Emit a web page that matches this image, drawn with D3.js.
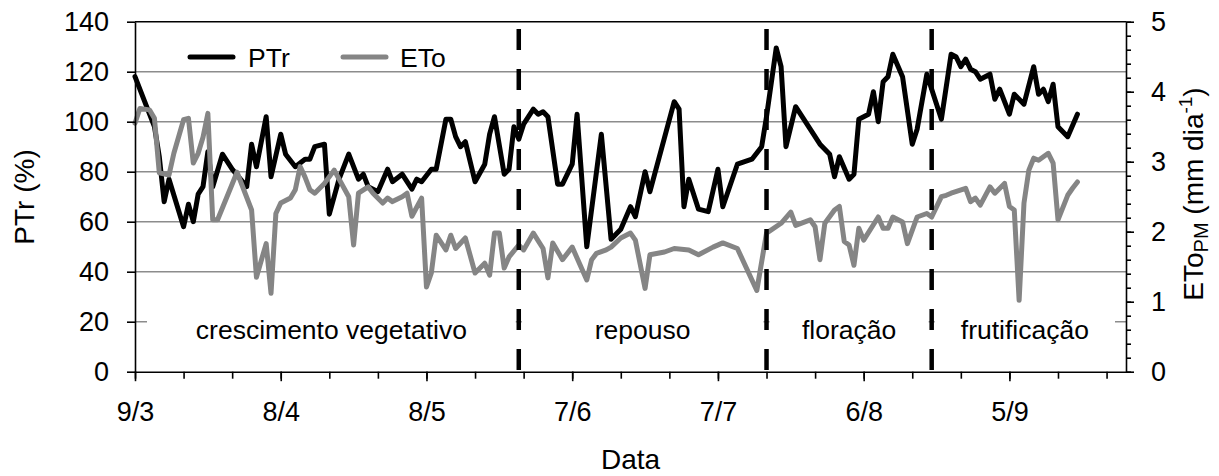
<!DOCTYPE html>
<html>
<head>
<meta charset="utf-8">
<script src="https://cdn.jsdelivr.net/npm/d3@7"></script>
<style>
  body { margin: 0; background: #fff; }
  text { font-family: "Liberation Sans", Arial, sans-serif; fill: #000; }
</style>
</head>
<body>
<svg id="chart" width="1219" height="476"></svg>
<script>
// Season and observation dates (month-day)
const year = 2013;
const axisStart = "03-09";
const axisEnd = "09-29";

// PTr (%) — left axis
const ptrDates = ["03-09","03-11","03-13","03-14","03-15","03-16","03-19","03-20","03-21","03-22","03-23","03-24","03-25","03-27","03-29",
  "04-01","04-02","04-03","04-05","04-06","04-08","04-09","04-11","04-13","04-14","04-15","04-17","04-18","04-20","04-22","04-24","04-25","04-26","04-28","04-30",
  "05-01","05-03","05-05","05-06","05-07","05-09","05-10","05-12","05-13","05-14","05-15","05-16","05-18","05-20","05-21","05-22","05-24","05-25","05-26","05-27","05-28","05-29","05-30","05-31",
  "06-01","06-02","06-04","06-05","06-07","06-08","06-10","06-13","06-15","06-16","06-17","06-19","06-20","06-22","06-23","06-28","06-29","06-30",
  "07-01","07-03","07-05","07-07","07-08","07-11","07-14","07-16","07-17","07-19","07-20","07-21","07-23","07-26","07-28","07-30","07-31",
  "08-01","08-03","08-04","08-05","08-07","08-08","08-09","08-10","08-11","08-12","08-14","08-16","08-17","08-19","08-20","08-22","08-24","08-25","08-26","08-27","08-28","08-29","08-30",
  "09-01","09-02","09-03","09-05","09-06","09-08","09-10","09-11","09-12","09-13","09-14","09-15","09-17","09-19"];
const ptrValues = [118,108,98,86,68,77,58,67,60,71,74,88,74,87,81,
  74,91,82,102,78,95,87,82,85,85,90,91,63,77,87,77,79,74,72,81,
  76,79,73,77,76,81,81,101,101,94,90,92,76,83,95,102,79,81,98,93,99,102,105,103,
  104,102,75,75,83,103,50,95,53,55,57,66,62,80,72,108,105,66,
  77,65,64,81,66,83,85,90,102,129.5,122,90,106,97,91,87,78,
  86,77,79,101,103,112,100,116,118,127,118,91,97,119,113,101,127,126,122,125,121,120,117,
  119,109,113,103,111,107,122,111,113,108,115,98,94,103];

// ETo (mm dia-1) — right axis
const etoDates = ["03-09","03-10","03-12","03-13","03-14","03-16","03-17","03-19","03-20","03-21","03-22","03-23","03-24","03-25","03-26","03-30",
  "04-02","04-03","04-05","04-06","04-07","04-08","04-10","04-11","04-12","04-13","04-14","04-15","04-17","04-19","04-22","04-23","04-24","04-26","04-27","04-29","04-30",
  "05-01","05-03","05-04","05-05","05-07","05-08","05-09","05-10","05-12","05-13","05-14","05-16","05-18","05-20","05-21","05-22","05-23","05-24","05-25","05-27","05-28","05-30",
  "06-01","06-02","06-03","06-05","06-07","06-10","06-11","06-12","06-14","06-15","06-17","06-19","06-20","06-22","06-23","06-26","06-28",
  "07-01","07-03","07-06","07-08","07-11","07-15","07-17","07-20","07-22","07-23","07-26","07-27","07-28","07-29","07-31",
  "08-01","08-02","08-03","08-04","08-05","08-06","08-09","08-10","08-11","08-12","08-14","08-15","08-17","08-19","08-20","08-22","08-23","08-24","08-27","08-28","08-29","08-30",
  "09-01","09-02","09-04","09-05","09-06","09-07","09-08","09-09","09-10","09-11","09-13","09-14","09-15","09-17","09-18","09-19"];
const etoValues = [3.55,3.76,3.74,3.62,2.84,2.81,3.12,3.6,3.62,2.98,3.12,3.35,3.69,2.17,2.17,2.85,
  2.31,1.35,1.83,1.12,2.26,2.41,2.48,2.6,2.93,2.78,2.6,2.55,2.69,2.88,2.5,1.81,2.55,2.64,2.55,2.41,2.48,
  2.43,2.5,2.55,2.22,2.48,1.21,1.41,1.95,1.74,1.95,1.76,1.91,1.41,1.55,1.38,1.98,1.98,1.48,1.64,1.81,1.74,1.98,
  1.76,1.34,1.84,1.6,1.78,1.31,1.6,1.69,1.74,1.78,1.91,1.98,1.88,1.19,1.67,1.71,1.76,
  1.74,1.67,1.78,1.84,1.76,1.16,1.98,2.12,2.28,2.09,2.17,2.07,1.6,2.12,2.31,
  2.36,1.86,1.81,1.52,2.05,1.88,2.21,2.05,2.05,2.21,2.14,1.83,2.21,2.26,2.21,2.5,2.52,2.55,2.62,2.43,2.48,2.38,
  2.64,2.55,2.69,2.36,2.31,1.02,2.41,2.88,3.05,3.02,3.12,2.98,2.17,2.52,2.62,2.71];

// Phenological phases
const phaseStarts = ["05-27","07-17","08-20"];
const phaseNames = ["crescimento vegetativo","repouso","floração","frutificação"];

// Axes
const leftTicks = [0,20,40,60,80,100,120,140];
const rightTicks = [0,1,2,3,4,5];
const seriesNames = ["PTr","ETo"];
const seriesColors = ["#000000","#858585"];

const parse = d3.timeParse("%Y-%m-%d");
const toDate = s => parse(`${year}-${s}`);

const svg = d3.select("#chart");
const plot = { left: 135, right: 1126, top: 21.7, bottom: 371.7 };
const fontSize = 26.5;
const tickFont = 27;
const titleFont = 28;

const x = d3.scaleTime()
  .domain([toDate(axisStart), toDate(axisEnd)])
  .range([plot.left, plot.right]);
const yL = d3.scaleLinear().domain([0, 140]).range([plot.bottom, plot.top]);
const yR = d3.scaleLinear().domain([0, 5]).range([plot.bottom, plot.top]);

// horizontal gridlines
svg.append("g").selectAll("line")
  .data(leftTicks.filter(v => v > 0 && v < 140))
  .join("line")
  .attr("x1", plot.left).attr("x2", plot.right)
  .attr("y1", d => yL(d)).attr("y2", d => yL(d))
  .attr("stroke", "#8c8c8c").attr("stroke-width", 1.4);

// phase boundaries in pixels
const bounds = [plot.left, ...phaseStarts.map(s => x(toDate(s))), plot.right];

// phase label boxes (white) with their captions
const boxes = phaseNames.map((name, i) => {
  const a = bounds[i] + (i === 0 ? 12 : 3);
  const b = bounds[i + 1] - (i === phaseNames.length - 1 ? 11 : 3);
  return { name, a, b };
});
const phaseG = svg.append("g");
phaseG.selectAll("rect").data(boxes).join("rect")
  .attr("x", d => d.a).attr("width", d => d.b - d.a)
  .attr("y", 306).attr("height", 48)
  .attr("fill", "#fff");
phaseG.selectAll("text").data(boxes).join("text")
  .attr("x", d => (d.a + d.b) / 2).attr("y", 339)
  .attr("text-anchor", "middle")
  .attr("font-size", fontSize)
  .text(d => d.name);

// series lines
const ptrData = ptrDates.map((d, i) => ({ date: toDate(d), v: ptrValues[i] }));
const etoData = etoDates.map((d, i) => ({ date: toDate(d), v: etoValues[i] }));

svg.append("path").datum(ptrData)
  .attr("fill", "none").attr("stroke", seriesColors[0]).attr("stroke-width", 5)
  .attr("stroke-linejoin", "round").attr("stroke-linecap", "round")
  .attr("d", d3.line().x(d => x(d.date)).y(d => yL(d.v)));

svg.append("path").datum(etoData)
  .attr("fill", "none").attr("stroke", seriesColors[1]).attr("stroke-width", 5)
  .attr("stroke-linejoin", "round").attr("stroke-linecap", "round")
  .attr("d", d3.line().x(d => x(d.date)).y(d => yR(d.v)));

// dashed phase separators
svg.append("g").selectAll("line")
  .data(phaseStarts)
  .join("line")
  .attr("x1", d => x(toDate(d))).attr("x2", d => x(toDate(d)))
  .attr("y1", 29).attr("y2", plot.bottom)
  .attr("stroke", "#000").attr("stroke-width", 4.5)
  .attr("stroke-dasharray", "21,19");

// axes
const axisStyle = g => {
  g.selectAll("path, line").attr("stroke", "#000").attr("stroke-width", 1.6);
  g.selectAll("text").attr("font-size", tickFont).attr("font-family", "'Liberation Sans', Arial, sans-serif");
};

const minorX = d3.timeDay.range(toDate(axisStart), toDate(axisEnd), 1)
  .filter((d, i) => i % 10 === 0);
const majorX = minorX.filter((d, i) => i % 3 === 0);

svg.append("g")
  .attr("transform", `translate(0,${plot.bottom})`)
  .call(d3.axisBottom(x).tickValues(minorX).tickSize(7).tickSizeOuter(0).tickFormat(""))
  .call(axisStyle);

svg.append("g")
  .attr("transform", `translate(0,${plot.bottom})`)
  .call(d3.axisBottom(x).tickValues(majorX).tickSize(9.5).tickSizeOuter(0)
    .tickPadding(21).tickFormat(d3.timeFormat("%-d/%-m")))
  .call(axisStyle)
  .call(g => g.select(".domain").remove());

svg.append("g")
  .attr("transform", `translate(${plot.left},0)`)
  .call(d3.axisLeft(yL).tickValues(leftTicks).tickSize(8).tickSizeOuter(0).tickPadding(18))
  .call(axisStyle);

svg.append("g")
  .attr("transform", `translate(${plot.right},0)`)
  .call(d3.axisRight(yR).tickValues(d3.range(0, 26).map(i => i / 5)).tickSize(5).tickSizeOuter(0).tickFormat(""))
  .call(axisStyle);

svg.append("g")
  .attr("transform", `translate(${plot.right},0)`)
  .call(d3.axisRight(yR).tickValues(rightTicks).tickSize(8).tickSizeOuter(0).tickPadding(17)
    .tickFormat(d3.format("d")))
  .call(axisStyle)
  .call(g => g.select(".domain").remove());

// top frame line
svg.append("line")
  .attr("x1", plot.left).attr("x2", plot.right)
  .attr("y1", plot.top).attr("y2", plot.top)
  .attr("stroke", "#000").attr("stroke-width", 1.6);

// axis titles
svg.append("text")
  .attr("x", (plot.left + plot.right) / 2).attr("y", 469)
  .attr("text-anchor", "middle").attr("font-size", titleFont)
  .text("Data");

svg.append("text")
  .attr("transform", `translate(34,197) rotate(-90)`)
  .attr("text-anchor", "middle").attr("font-size", titleFont)
  .text("PTr (%)");

const rt = svg.append("text")
  .attr("transform", `translate(1203,194) rotate(-90)`)
  .attr("text-anchor", "middle").attr("font-size", titleFont);
rt.append("tspan").text("ETo");
rt.append("tspan").attr("font-size", 20).attr("dy", 5).text("PM");
rt.append("tspan").attr("dy", -5).text(" (mm dia");
rt.append("tspan").attr("font-size", 19).attr("dy", -11).text("-1");
rt.append("tspan").attr("dy", 11).text(")");

// legend
const legend = svg.append("g");
const legendItems = [
  { name: seriesNames[0], color: seriesColors[0], x0: 190, x1: 233, tx: 248 },
  { name: seriesNames[1], color: seriesColors[1], x0: 343, x1: 386, tx: 400 }
];
legendItems.forEach(it => {
  legend.append("line")
    .attr("x1", it.x0).attr("x2", it.x1).attr("y1", 57).attr("y2", 57)
    .attr("stroke", it.color).attr("stroke-width", 5).attr("stroke-linecap", "round");
  legend.append("text")
    .attr("x", it.tx).attr("y", 66.5).attr("font-size", fontSize)
    .text(it.name);
});
</script>
</body>
</html>
